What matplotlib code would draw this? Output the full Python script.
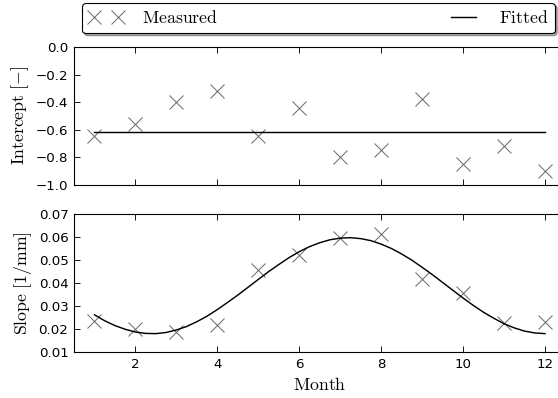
import matplotlib
matplotlib.use("Agg")
import matplotlib.pyplot as plt

plt.rcParams['mathtext.fontset'] = 'cm'
plt.rcParams['font.family'] = ['DejaVu Sans']

# Monthly regression coefficients
months = [1, 2, 3, 4, 5, 6, 7, 8, 9, 10, 11, 12]
intercept_measured = [-0.65, -0.56, -0.40, -0.32, -0.65, -0.44,
                      -0.80, -0.75, -0.38, -0.85, -0.72, -0.90]
intercept_fitted = [-0.62] * 12

slope_measured = [0.0234, 0.0198, 0.0187, 0.0217, 0.0458, 0.0523,
                  0.0595, 0.0612, 0.0417, 0.0357, 0.0227, 0.0230]

# Fitted seasonal slope curve, sampled every quarter month
fit_months = [1.00, 1.25, 1.50, 1.75, 2.00, 2.25, 2.50, 2.75, 3.00, 3.25,
              3.50, 3.75, 4.00, 4.25, 4.50, 4.75, 5.00, 5.25, 5.50, 5.75,
              6.00, 6.25, 6.50, 6.75, 7.00, 7.25, 7.50, 7.75, 8.00, 8.25,
              8.50, 8.75, 9.00, 9.25, 9.50, 9.75, 10.00, 10.25, 10.50, 10.75,
              11.00, 11.25, 11.50, 11.75, 12.00]
slope_fitted = [0.0262, 0.0236, 0.0215, 0.0199, 0.0187, 0.0181, 0.0180, 0.0185,
                0.0196, 0.0211, 0.0232, 0.0256, 0.0285, 0.0316, 0.0348, 0.0382,
                0.0416, 0.0450, 0.0481, 0.0511, 0.0537, 0.0559, 0.0576, 0.0589,
                0.0596, 0.0598, 0.0594, 0.0585, 0.0570, 0.0551, 0.0527, 0.0500,
                0.0469, 0.0437, 0.0403, 0.0369, 0.0335, 0.0303, 0.0273, 0.0247,
                0.0223, 0.0205, 0.0191, 0.0183, 0.0180]

x_ticks = [2, 4, 6, 8, 10, 12]
intercept_ticks = [0.0, -0.2, -0.4, -0.6, -0.8, -1.0]
slope_ticks = [0.01, 0.02, 0.03, 0.04, 0.05, 0.06, 0.07]

DPI = 80
fig = plt.figure(figsize=(558 / DPI, 398 / DPI), dpi=DPI)
ax1 = fig.add_axes([0.1326, 0.5364, 0.8808, 0.3455])
ax2 = fig.add_axes([0.1326, 0.1156, 0.8808, 0.3460])

marker_kw = dict(linestyle='none', marker='x', markersize=13,
                 markeredgewidth=0.9, color='0.42')
line_kw = dict(color='black', linewidth=1.3)

m_handle, = ax1.plot(months, intercept_measured, **marker_kw)
f_handle, = ax1.plot(months, intercept_fitted, **line_kw)
ax2.plot(months, slope_measured, **marker_kw)
ax2.plot(fit_months, slope_fitted, **line_kw)

for ax in (ax1, ax2):
    ax.set_xlim(0.5, 12.5)
    ax.set_xticks(x_ticks)
    ax.tick_params(direction='in', top=True, right=True, length=5,
                   width=0.8, labelsize=12, pad=5)
    for sp in ax.spines.values():
        sp.set_linewidth(1.0)

ax1.set_ylim(-1.0, 0.0)
ax1.set_yticks(intercept_ticks)
ax1.tick_params(labelbottom=False)
ax2.set_ylim(0.01, 0.07)
ax2.set_yticks(slope_ticks)

ax1.set_ylabel(r'$\mathrm{Intercept\ [-]}$', fontsize=16, labelpad=4)
ax2.set_ylabel(r'$\mathrm{Slope\ [1/mm]}$', fontsize=16, labelpad=4)
ax2.set_xlabel(r'$\mathrm{Month}$', fontsize=16, labelpad=5)
fig.align_ylabels([ax1, ax2])

leg = fig.legend([m_handle, f_handle],
                 [r'$\mathrm{Measured}$', r'$\mathrm{Fitted}$'],
                 loc='upper left', bbox_to_anchor=(82 / 558, 1 - 3 / 398, 473 / 558, 0),
                 bbox_transform=fig.transFigure, ncol=2, mode='expand',
                 borderaxespad=0, numpoints=2, fontsize=16, handlelength=2.0,
                 handletextpad=1.0, borderpad=0.35, fancybox=True, shadow=True,
                 framealpha=1)
leg.get_frame().set_edgecolor('black')
leg.get_frame().set_linewidth(1.0)

fig.savefig('out.png', dpi=DPI)
